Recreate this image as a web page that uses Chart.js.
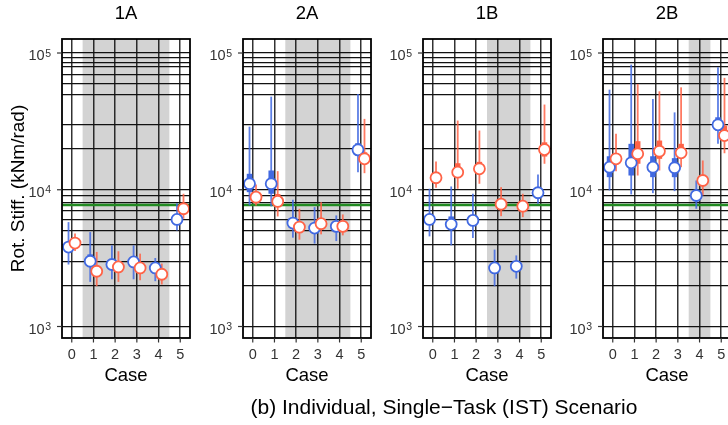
<!DOCTYPE html>
<html>
<head>
<meta charset="utf-8">
<script src="https://cdn.jsdelivr.net/npm/chart.js@4.4.1/dist/chart.umd.min.js"></script>
<style>
html, body { margin: 0; padding: 0; background: #fff; }
#wrap { position: relative; width: 728px; height: 425px; overflow: hidden; background: #fff; }
canvas { position: absolute; top: 0; }
#caption { position: absolute; left: 0; width: 888px; top: 395px; text-align: center;
  font: 21px "Liberation Sans", Arial, sans-serif; color: #000; line-height: 24px; }
</style>
</head>
<body>
<div id="wrap">
<canvas id="c0" width="198" height="425" style="left:0px"></canvas>
<canvas id="c1" width="198" height="425" style="left:181px"></canvas>
<canvas id="c2" width="198" height="425" style="left:361px"></canvas>
<canvas id="c3" width="198" height="425" style="left:541px"></canvas>
<div id="caption">(b) Individual, Single−Task (IST) Scenario</div>
</div>
<script>
// panels and cases
var panels = ['1A', '2A', '1B', '2B'];
var cases = [0, 1, 2, 3, 4, 5];
var shaded = [[0.5, 4.5], [1.5, 4.5], [2.5, 4.5], [3.5, 4.5]];
var yMajor = [1000, 10000, 100000];
var yGrid = [1000, 2000, 3000, 4000, 5000, 6000, 7000, 8000, 9000, 10000,
             20000, 30000, 50000, 60000, 70000, 80000, 85000, 92000, 100000];
var reference = 7750;

// blue series (one row per panel)
var blueMed = [[3810, 3000, 2840, 2965, 2680, 6070],
               [11060, 11060, 5705, 5245, 5400, 19580],
               [6070, 5590, 5970, 2680, 2755, 9510],
               [14620, 15740, 14620, 14480, 9080, 29850]];
var blueLo  = [[2840, 2120, 2215, 2215, 2145, 5045],
               [7680, 7560, 4465, 4040, 4215, 13440],
               [4560, 3920, 4440, 1970, 2240, 7910],
               [9880, 9240, 9440, 9770, 7260, 21670]];
var blueHi  = [[5800, 4900, 3920, 3920, 3170, 7980],
               [28950, 47950, 8450, 7460, 6490, 50200],
               [10170, 10570, 9350, 3650, 3310, 12930],
               [53950, 82200, 46100, 36800, 11690, 78540]];
var blueQ1  = [[3550, 2760, 2650, 2770, 2500, 5700],
               [9600, 9350, 5300, 4900, 5050, 18300],
               [5680, 5200, 5580, 2500, 2580, 8900],
               [12360, 12710, 12360, 12360, 8500, 27100]];
var blueQ3  = [[4100, 3370, 3050, 3200, 2880, 6500],
               [13080, 13830, 6100, 5600, 5750, 21900],
               [6500, 6380, 6380, 2870, 2950, 10150],
               [17580, 21670, 17580, 17020, 9700, 33880]];

// red series
var redMed = [[4075, 2535, 2725, 2680, 2410, 7260],
              [8830, 8220, 5330, 5650, 5400, 16830],
              [12240, 13440, 14220, 7850, 7580, 19680],
              [16830, 18330, 19130, 18620, 11690, 24900]];
var redLo  = [[3565, 1970, 2120, 2180, 2030, 6140],
              [7680, 6380, 4315, 4720, 4640, 13220],
              [10340, 10170, 11060, 6410, 6310, 15490],
              [13670, 12710, 13830, 14620, 9080, 18490]];
var redHi  = [[4780, 3510, 3550, 3410, 2885, 9350],
              [10930, 13680, 7260, 8110, 6600, 32980],
              [16100, 32060, 27100, 10450, 9350, 41980],
              [25640, 59400, 52480, 56100, 16370, 65800]];
var redQ1  = [[3800, 2350, 2550, 2500, 2250, 6800],
              [8250, 7700, 4980, 5280, 5050, 15880],
              [11450, 12360, 13300, 7350, 7100, 17500],
              [15700, 15490, 16830, 17300, 10900, 22900]];
var redQ3  = [[4350, 2750, 2900, 2880, 2600, 7750],
              [9400, 9300, 5700, 6050, 5780, 18800],
              [13100, 15630, 16000, 8400, 8100, 22230],
              [18000, 22640, 22900, 21670, 12500, 29450]];

var BLUE = '#4169E1';
var RED = '#FF6347';
var FONT = '"Liberation Sans", Arial, sans-serif';
var OFF = 0.15;

function drawRanges(ctx, x, y, lo, hi, q1, q3, off, color) {
  for (var i = 0; i < cases.length; i++) {
    var px = x.getPixelForValue(cases[i] + off);
    ctx.globalAlpha = 0.85;
    ctx.strokeStyle = color;
    ctx.lineWidth = 1.8;
    ctx.beginPath();
    ctx.moveTo(px, y.getPixelForValue(lo[i]));
    ctx.lineTo(px, y.getPixelForValue(hi[i]));
    ctx.stroke();
    ctx.globalAlpha = 1;
    ctx.fillStyle = color;
    var t = y.getPixelForValue(q3[i]), b = y.getPixelForValue(q1[i]);
    ctx.fillRect(px - 2.75, t, 5.5, b - t);
  }
}

function panelPlugin(p) {
  return {
    id: 'panel' + p,
    beforeDraw: function (chart) {
      var ctx = chart.ctx, a = chart.chartArea, x = chart.scales.x;
      var x0 = x.getPixelForValue(shaded[p][0]), x1 = x.getPixelForValue(shaded[p][1]);
      ctx.save();
      ctx.fillStyle = '#d3d3d3';
      ctx.fillRect(x0, a.top, x1 - x0, a.bottom - a.top);
      ctx.restore();
    },
    beforeDatasetsDraw: function (chart) {
      var ctx = chart.ctx, a = chart.chartArea, x = chart.scales.x, y = chart.scales.y;
      ctx.save();
      ctx.beginPath();
      ctx.rect(a.left, a.top, a.right - a.left, a.bottom - a.top);
      ctx.clip();
      var gy = y.getPixelForValue(reference);
      ctx.strokeStyle = '#228B22';
      ctx.lineWidth = 2.5;
      ctx.beginPath(); ctx.moveTo(a.left, gy); ctx.lineTo(a.right, gy); ctx.stroke();
      drawRanges(ctx, x, y, blueLo[p], blueHi[p], blueQ1[p], blueQ3[p], -OFF, BLUE);
      drawRanges(ctx, x, y, redLo[p], redHi[p], redQ1[p], redQ3[p], OFF, RED);
      ctx.restore();
    },
    afterDraw: function (chart) {
      var ctx = chart.ctx, a = chart.chartArea, x = chart.scales.x, y = chart.scales.y;
      ctx.save();
      ctx.strokeStyle = '#000';
      ctx.lineWidth = 1.8;
      ctx.strokeRect(a.left, a.top, a.right - a.left, a.bottom - a.top);

      ctx.strokeStyle = '#333';
      ctx.fillStyle = '#333';
      ctx.lineWidth = 1.2;
      yMajor.forEach(function (v) {
        var py = y.getPixelForValue(v);
        ctx.beginPath(); ctx.moveTo(a.left - 5, py); ctx.lineTo(a.left, py); ctx.stroke();
        var exp = String(Math.round(Math.log10(v)));
        var right = a.left - 11;
        ctx.font = '10.5px ' + FONT;
        var ew = ctx.measureText(exp).width;
        ctx.textAlign = 'left';
        ctx.textBaseline = 'alphabetic';
        ctx.fillText(exp, right - ew, py + 3.5);
        ctx.font = '14.5px ' + FONT;
        ctx.textAlign = 'right';
        ctx.fillText('10', right - ew - 0.6, py + 7);
      });

      ctx.font = '14.5px ' + FONT;
      ctx.textAlign = 'center';
      ctx.textBaseline = 'middle';
      cases.forEach(function (c) {
        var px = x.getPixelForValue(c);
        ctx.beginPath(); ctx.moveTo(px, a.bottom); ctx.lineTo(px, a.bottom + 4.5); ctx.stroke();
        ctx.fillText(String(c), px, a.bottom + 17);
      });

      var cx = (a.left + a.right) / 2;
      ctx.fillStyle = '#000';
      ctx.font = '18.5px ' + FONT;
      ctx.fillText('Case', cx, 376);
      ctx.fillText(panels[p], cx, 14);

      if (p === 0) {
        ctx.font = '19px ' + FONT;
        ctx.translate(19, 188.5);
        ctx.rotate(-Math.PI / 2);
        ctx.fillText('Rot. Stiff. (kNm/rad)', 0, 0);
      }
      ctx.restore();
    }
  };
}

function points(vals, off) {
  return vals.map(function (v, i) { return { x: cases[i] + off, y: v }; });
}

panels.forEach(function (name, p) {
  new Chart(document.getElementById('c' + p), {
    type: 'scatter',
    data: {
      datasets: [
        { label: 'red', data: points(redMed[p], OFF), pointRadius: 5.5,
          pointBackgroundColor: '#fff', pointBorderColor: RED, pointBorderWidth: 1.8 },
        { label: 'blue', data: points(blueMed[p], -OFF), pointRadius: 5.5,
          pointBackgroundColor: '#fff', pointBorderColor: BLUE, pointBorderWidth: 1.8 }
      ]
    },
    options: {
      responsive: false,
      animation: false,
      events: [],
      layout: { padding: { left: 62, right: 8, top: 39, bottom: 87 } },
      plugins: { legend: { display: false }, tooltip: { enabled: false } },
      scales: {
        x: {
          type: 'linear', min: -0.45, max: 5.45,
          afterBuildTicks: function (s) { s.ticks = cases.map(function (v) { return { value: v }; }); },
          afterFit: function (s) { s.height = 0; },
          ticks: { display: false },
          grid: { color: 'rgba(0,0,0,0.8)', lineWidth: 1.5, drawTicks: false },
          border: { display: false }
        },
        y: {
          type: 'logarithmic', min: 824, max: 126600,
          afterBuildTicks: function (s) { s.ticks = yGrid.map(function (v) { return { value: v }; }); },
          afterFit: function (s) { s.width = 0; },
          ticks: { display: false },
          grid: { color: '#111', lineWidth: 1.2, drawTicks: false },
          border: { display: false }
        }
      }
    },
    plugins: [panelPlugin(p)]
  });
});
</script>
</body>
</html>
